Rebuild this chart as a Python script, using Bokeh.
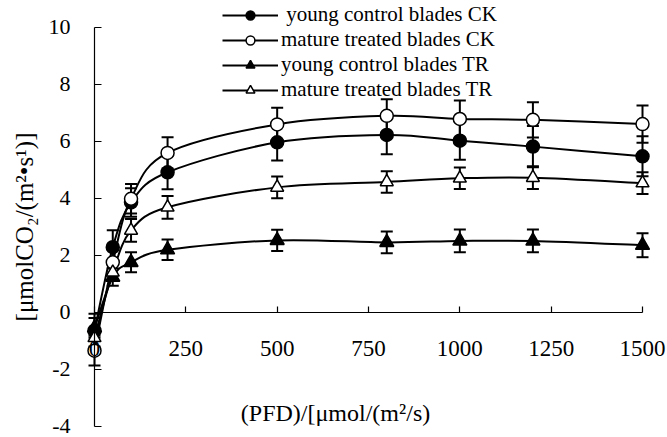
import numpy as np
from bokeh.plotting import figure
from bokeh.models import (ColumnDataSource, Range1d, FixedTicker, Whisker, TeeHead,
                          Legend, LegendItem, Label)
from bokeh.embed import file_html
from bokeh.resources import INLINE

# ---- data ----
pfd = [0, 50, 100, 200, 500, 800, 1000, 1200, 1500]

young_ck = [-0.65, 2.28, 3.85, 4.91, 5.96, 6.22, 6.02, 5.81, 5.47]
young_ck_err = [0.60, 0.60, 0.50, 0.60, 0.64, 0.68, 0.67, 0.72, 0.70]

mature_ck = [-1.35, 1.75, 3.98, 5.59, 6.59, 6.89, 6.78, 6.75, 6.60]
mature_ck_err = [0.52, 0.45, 0.52, 0.55, 0.58, 0.58, 0.65, 0.62, 0.65]

young_tr = [-0.55, 1.23, 1.75, 2.19, 2.52, 2.45, 2.50, 2.50, 2.35]
young_tr_err = [0.35, 0.30, 0.35, 0.36, 0.37, 0.38, 0.40, 0.40, 0.42]

mature_tr = [-0.90, 1.40, 2.87, 3.68, 4.38, 4.57, 4.70, 4.72, 4.53]
mature_tr_err = [0.30, 0.30, 0.40, 0.40, 0.38, 0.38, 0.38, 0.40, 0.38]

series_labels = [" young control blades CK", "mature treated blades CK",
                 "young control blades TR", "mature treated blades TR"]

x_ticks = [0, 250, 500, 750, 1000, 1250, 1500]
x_tick_labels = ["0", "250", "500", "750", "1000", "1250", "1500"]
y_ticks = [-4, -2, 0, 2, 4, 6, 8, 10]
y_tick_labels = ["-4", "-2", "0", "2", "4", "6", "8", "10"]

x_title = "(PFD)/[\u03bcmol/(m\u00b2/s)"
y_title = "[\u03bcmolCO\u2082/(m\u00b2\u2022s\u00b9)]"

FONT = "Liberation Serif"

p = figure(width=667, height=437, output_backend="svg", toolbar_location=None,
           x_range=Range1d(-257.3, 1568.4), y_range=Range1d(-4.396, 10.937),
           min_border=0, outline_line_color=None, background_fill_color="white")
p.grid.visible = False


def smooth(xs, ys):
    x = np.asarray(xs, float)
    y = np.asarray(ys, float)
    n = len(x)
    xp = np.concatenate([[x[0]], x, [x[-1]]])
    yp = np.concatenate([[y[0]], y, [y[-1]]])
    cx0 = x[:-1] + (xp[2:n + 1] - xp[0:n - 1]) / 6.0
    cy0 = y[:-1] + (yp[2:n + 1] - yp[0:n - 1]) / 6.0
    cx1 = x[1:] - (xp[3:n + 2] - xp[1:n]) / 6.0
    cy1 = y[1:] - (yp[3:n + 2] - yp[1:n]) / 6.0
    return dict(x0=x[:-1], y0=y[:-1], x1=x[1:], y1=y[1:],
                cx0=cx0, cy0=cy0, cx1=cx1, cy1=cy1)


series = [
    (young_ck, young_ck_err, "circle", "black", 13),
    (mature_ck, mature_ck_err, "circle", "white", 13),
    (young_tr, young_tr_err, "triangle", "black", 14),
    (mature_tr, mature_tr_err, "triangle", "white", 13),
]

line_renderers = []
for vals, errs, m, fc, sz in series:
    r = p.bezier(source=ColumnDataSource(smooth(pfd, vals)), x0="x0", y0="y0", x1="x1", y1="y1",
                 cx0="cx0", cy0="cy0", cx1="cx1", cy1="cy1",
                 line_color="black", line_width=2)
    line_renderers.append(r)

marker_renderers = []
for vals, errs, m, fc, sz in series:
    src = ColumnDataSource(dict(x=pfd, y=vals,
                                upper=[v + e for v, e in zip(vals, errs)],
                                lower=[v - e for v, e in zip(vals, errs)]))
    w = Whisker(base="x", upper="upper", lower="lower", source=src, level="underlay",
                line_color="black", line_width=2,
                upper_head=TeeHead(size=12, line_width=2, line_color="black"),
                lower_head=TeeHead(size=12, line_width=2, line_color="black"))
    p.add_layout(w)
    r = p.scatter(x="x", y="y", source=src, marker=m, size=sz,
                  fill_color=fc, line_color="black", line_width=1.5)
    marker_renderers.append(r)

# axes drawn at the crossing of zero
xa = p.xaxis[0]
xa.fixed_location = 0
xa.bounds = (0, 1500)
xa.ticker = FixedTicker(ticks=x_ticks)
xa.major_label_overrides = {t: s for t, s in zip(x_ticks, x_tick_labels)}
xa.minor_tick_line_color = None
xa.major_tick_in = 6
xa.major_tick_out = 0
xa.major_label_standoff = 29
xa.major_label_text_font = FONT
xa.major_label_text_font_size = "23px"
xa.major_label_text_color = "black"
xa.axis_line_color = "black"
xa.axis_line_width = 1.2
xa.major_tick_line_color = "black"
xa.major_tick_line_width = 1.2

ya = p.yaxis[0]
ya.fixed_location = 0
ya.bounds = (-4, 10)
ya.ticker = FixedTicker(ticks=y_ticks)
ya.major_label_overrides = {t: s for t, s in zip(y_ticks, y_tick_labels)}
ya.minor_tick_line_color = None
ya.major_tick_in = 7
ya.major_tick_out = 0
ya.major_label_standoff = 24
ya.major_label_text_font = FONT
ya.major_label_text_font_size = "22px"
ya.major_label_text_color = "black"
ya.axis_line_color = "black"
ya.axis_line_width = 1.2
ya.major_tick_line_color = "black"
ya.major_tick_line_width = 1.2
ya.axis_label = y_title
ya.axis_label_text_font = FONT
ya.axis_label_text_font_size = "25px"
ya.axis_label_text_font_style = "normal"
ya.axis_label_text_color = "black"
ya.axis_label_standoff = 8

p.add_layout(Label(x=659.7, y=-3.55, text=x_title, text_font=FONT, text_font_size="24px",
                   text_align="center", text_baseline="middle", text_color="black"))

items = [LegendItem(label=lab, renderers=[lr, mr])
         for lab, lr, mr in zip(series_labels, line_renderers, marker_renderers)]
legend = Legend(items=items, location=(222, 335), padding=0, margin=0, spacing=0,
                glyph_width=56, glyph_height=22, label_height=22, label_standoff=3,
                label_text_font=FONT, label_text_font_size="21px", label_text_color="black",
                border_line_color=None, background_fill_alpha=0)
p.add_layout(legend)

open("out.html", "w").write(file_html(p, INLINE))
